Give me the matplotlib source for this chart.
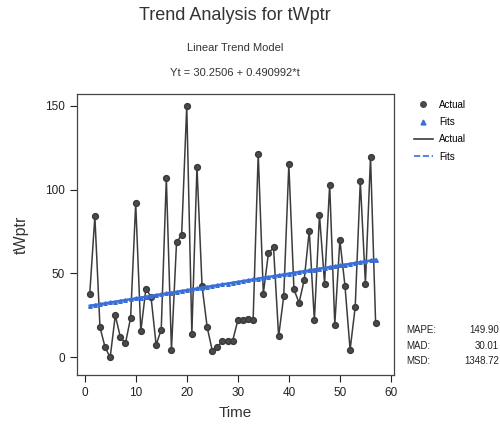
import matplotlib.pyplot as plt
import numpy as np
from matplotlib.lines import Line2D

plt.rcParams["font.family"] = ["Liberation Sans Narrow", "Liberation Sans", "DejaVu Sans"]

# observed series, t = 1..57
actual = [38, 84, 18, 6, 0, 25, 12, 8.5, 23.5, 92, 15.5, 41, 36, 7.5, 16.5, 107,
          4.5, 68.5, 73, 150, 14, 113.5, 42.5, 18, 4, 6, 10, 10, 10, 22, 22.5,
          23, 22, 121.5, 38, 62, 65.5, 12.5, 36.5, 115, 40.5, 32.5, 46, 75.5,
          22, 85, 44, 103, 19.5, 70, 42.5, 4.5, 30, 105, 44, 119.5, 20.5]
intercept = 30.2506
slope = 0.490992
stat_names = ["MAPE:", "MAD:", "MSD:"]
stat_values = ["149.90", "30.01", "1348.72"]

t = np.arange(1, len(actual) + 1)
fits = intercept + slope * t

fig = plt.figure(figsize=(5.0, 4.33), dpi=100)
ax = fig.add_axes([0.154, 0.134, 0.634, 0.649])

dark = "#3c3c3c"
blue = "#3a6fd8"
ax.plot(t, actual, color=dark, linewidth=1.1, marker="o", markersize=4.2,
        markerfacecolor="#4a4a4a", markeredgecolor="#3a3a3a")
ax.plot(t, fits, color=blue, linewidth=1.8, linestyle="-", marker="^",
        markersize=2.6, markerfacecolor=blue, markeredgecolor=blue)

ax.set_xlim(-1.5, 60.6)
ax.set_ylim(-10.5, 157)
ax.set_xticks([0, 10, 20, 30, 40, 50, 60])
ax.set_yticks([0, 50, 100, 150])
ax.tick_params(labelsize=8.5, colors="#222222", length=5, width=0.8)
for s in ax.spines.values():
    s.set_color("#444444")
    s.set_linewidth(0.9)

ax.set_xlabel("Time", fontsize=11, color="#333333", labelpad=5)
ax.set_ylabel("tWptr", fontsize=11.5, color="#333333", labelpad=12)

fig.text(0.47, 0.965, "Trend Analysis for tWptr", ha="center", va="center",
         fontsize=13, fontweight="medium", color="#333333")
fig.text(0.47, 0.89, "Linear Trend Model", ha="center", va="center",
         fontsize=8, color="#333333")
fig.text(0.47, 0.832, "Yt = 30.2506 + 0.490992*t", ha="center", va="center",
         fontsize=8, color="#333333")

handles = [
    Line2D([0], [0], linestyle="none", marker="o", markersize=4, color="#4a4a4a", label="Actual"),
    Line2D([0], [0], linestyle="none", marker="^", markersize=3.5, color=blue, label="Fits"),
    Line2D([0], [0], color=dark, linewidth=1.2, label="Actual"),
    Line2D([0], [0], color=blue, linewidth=1.2, linestyle="--", label="Fits"),
]
fig.legend(handles=handles, loc="upper left", bbox_to_anchor=(0.81, 0.79),
           frameon=False, fontsize=7, handlelength=2.0, labelspacing=0.75,
           handletextpad=0.6)

for i, (name, val) in enumerate(zip(stat_names, stat_values)):
    y = 0.238 - i * 0.036
    fig.text(0.812, y, name, ha="left", va="center", fontsize=7, color="#222222")
    fig.text(0.998, y, val, ha="right", va="center", fontsize=7, color="#222222")

fig.savefig("out.png", dpi=100)
